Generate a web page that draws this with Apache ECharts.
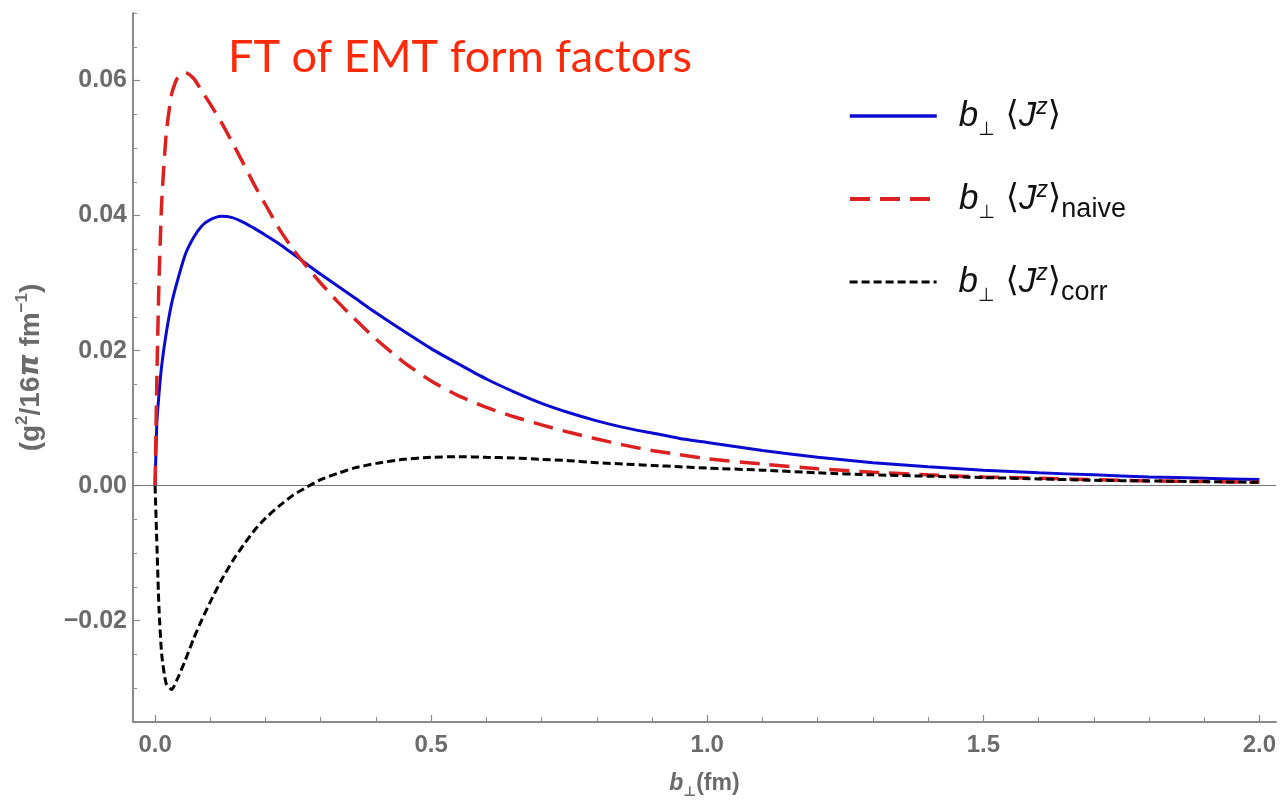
<!DOCTYPE html>
<html>
<head>
<meta charset="utf-8">
<script src="https://cdn.jsdelivr.net/npm/echarts@6/dist/echarts.min.js"></script>
<style>
html,body{margin:0;padding:0;background:#fff;}
#chart{width:1284px;height:803px;}
</style>
</head>
<body>
<div id="chart"></div>
<script>
// ---- data ----
const bValues = [0, 0.003, 0.007, 0.012, 0.02, 0.03, 0.04, 0.055, 0.07, 0.085, 0.1, 0.12, 0.14, 0.16, 0.18, 0.2, 0.225, 0.25, 0.275, 0.3, 0.33, 0.36, 0.4, 0.45, 0.5, 0.55, 0.6, 0.65, 0.7, 0.75, 0.8, 0.85, 0.9, 0.95, 1.0, 1.1, 1.2, 1.3, 1.4, 1.5, 1.6, 1.7, 1.8, 1.9, 2.0];
const jzTotal = [0, 0.009, 0.0135, 0.0178, 0.0225, 0.027, 0.0302, 0.0343, 0.0368, 0.0385, 0.0394, 0.0399, 0.0397, 0.0390, 0.0381, 0.0371, 0.0358, 0.0343, 0.0328, 0.0313, 0.0296, 0.0279, 0.0256, 0.0229, 0.0203, 0.0180, 0.0158, 0.0139, 0.0122, 0.0108, 0.0096, 0.0086, 0.0078, 0.0070, 0.0064, 0.0052, 0.0042, 0.0034, 0.0028, 0.0023, 0.0019, 0.0016, 0.0013, 0.0011, 0.0009];
const jzNaive = [0, 0.015, 0.030, 0.042, 0.052, 0.058, 0.0603, 0.0612, 0.0603, 0.0584, 0.0565, 0.0538, 0.0508, 0.0477, 0.0445, 0.0416, 0.0380, 0.0350, 0.0324, 0.0300, 0.0273, 0.0248, 0.0217, 0.0183, 0.0155, 0.0133, 0.0116, 0.0102, 0.0090, 0.0079, 0.0069, 0.0060, 0.0052, 0.0046, 0.0040, 0.0032, 0.0025, 0.0020, 0.0016, 0.0013, 0.0011, 0.0009, 0.0007, 0.0006, 0.0005];
const jzCorr = [0, -0.008, -0.018, -0.025, -0.0293, -0.0302, -0.0287, -0.0258, -0.0226, -0.0198, -0.0172, -0.0140, -0.0112, -0.0088, -0.0066, -0.0048, -0.0030, -0.0014, -0.0002, 0.0009, 0.0018, 0.0026, 0.0033, 0.0039, 0.0042, 0.0043, 0.0042, 0.0041, 0.0039, 0.0037, 0.0034, 0.0032, 0.0030, 0.0028, 0.0026, 0.0023, 0.0019, 0.0016, 0.0014, 0.0012, 0.0010, 0.0008, 0.0007, 0.0006, 0.0005];

const yMajorTicks = [-0.02, 0, 0.02, 0.04, 0.06];
const yMinorTicks = [-0.035, -0.03, -0.025, -0.02, -0.015, -0.01, -0.005, 0, 0.005, 0.01, 0.015, 0.02, 0.025, 0.03, 0.035, 0.04, 0.045, 0.05, 0.055, 0.06, 0.065, 0.07];
const xMajorTicks = [0, 0.5, 1, 1.5, 2];
const xMinorTicks = [0, 0.1, 0.2, 0.3, 0.4, 0.5, 0.6, 0.7, 0.8, 0.9, 1.0, 1.1, 1.2, 1.3, 1.4, 1.5, 1.6, 1.7, 1.8, 1.9, 2.0];

const titleText = 'FT of EMT form factors';
const seriesNames = ['J', 'naive', 'corr'];

// ---- chart ----
const pairs = arr => bValues.map((b, i) => [b, arr[i]]);
const gray = '#6b6b6b';
const axisGray = '#8a8a8a';
const labelFont = "'Liberation Sans', Arial, sans-serif";

const LH = 44;
const legendRich = {
  sp: {width: 17, fontSize: 28, lineHeight: LH},
  b: {fontSize: 35, fontStyle: 'italic', fontFamily: labelFont, color: '#111', lineHeight: LH},
  perp: {fontSize: 19, fontFamily: "'DejaVu Sans', sans-serif", color: '#111', verticalAlign: 'bottom', lineHeight: LH, padding: [0, 0, -2, 0]},
  n: {fontSize: 34, fontFamily: "'DejaVu Sans', 'Liberation Sans', sans-serif", color: '#111', lineHeight: LH},
  J: {fontSize: 35, fontStyle: 'italic', fontFamily: labelFont, color: '#111', lineHeight: LH},
  sup: {fontSize: 23, fontStyle: 'italic', fontFamily: labelFont, color: '#111', verticalAlign: 'top', lineHeight: LH, padding: [2, 0, 0, 0]},
  sub: {fontSize: 27, fontFamily: labelFont, color: '#111', verticalAlign: 'bottom', lineHeight: LH, padding: [0, 0, -2, 0]}
};
const legendLabel = {
  J: '{sp| }{b|b}{perp|⊥}{n| ⟨}{J|J}{sup|z}{n|⟩}',
  naive: '{sp| }{b|b}{perp|⊥}{n| ⟨}{J|J}{sup|z}{n|⟩}{sub|naive}',
  corr: '{sp| }{b|b}{perp|⊥}{n| ⟨}{J|J}{sup|z}{n|⟩}{sub|corr}'
};
const legendLineWidths = [3.5, 4, 3.2];
const legendCenters = [112, 195, 278];
const legends = seriesNames.map((nm, i) => ({
  data: [nm],
  left: 843,
  top: legendCenters[i] - LH / 2 - 1,
  itemWidth: 87,
  itemHeight: 14,
  selectedMode: false,
  formatter: name => legendLabel[name],
  itemStyle: {opacity: 0},
  lineStyle: {width: legendLineWidths[i]},
  textStyle: {rich: legendRich}
}));

const fmtY = v => {
  if (Math.abs(v) < 1e-9) return '0.00';
  return (v < 0 ? '−' : '') + Math.abs(v).toFixed(2);
};

const option = {
  animation: false,
  backgroundColor: '#fff',
  title: {
    text: titleText,
    left: 223,
    top: 30,
    textStyle: {fontSize: 45, fontWeight: 'normal', color: '#ff2a0a', fontFamily: "Lato, 'Noto Sans', sans-serif"}
  },
  legend: legends,
  grid: {left: 133, right: 8, top: 13, bottom: 81, containLabel: false, outerBoundsMode: 'none'},
  xAxis: [
    {
      type: 'value', min: -0.04, max: 2.03, position: 'bottom',
      name: '{bi|b}{perp|⊥}{n|(fm)}',
      nameLocation: 'middle', nameGap: 50,
      nameTextStyle: {
        rich: {
          bi: {fontSize: 23, fontWeight: 'bold', fontStyle: 'italic', color: gray, fontFamily: labelFont},
          perp: {fontSize: 14, fontWeight: 'bold', color: gray, fontFamily: "'DejaVu Sans', sans-serif", verticalAlign: 'bottom', padding: [0, 0, -4, 0]},
          n: {fontSize: 23, fontWeight: 'bold', color: gray, fontFamily: labelFont}
        }
      },
      splitLine: {show: false},
      axisLine: {onZero: false, lineStyle: {color: axisGray, width: 2}},
      axisTick: {inside: true, length: 7, customValues: xMajorTicks, lineStyle: {color: axisGray, width: 1.2}},
      axisLabel: {customValues: xMajorTicks, formatter: v => v.toFixed(1), fontSize: 24, fontWeight: 'bold', color: gray, fontFamily: labelFont, margin: 11}
    },
    {
      type: 'value', min: -0.04, max: 2.03, position: 'bottom', offset: 0,
      splitLine: {show: false},
      axisLine: {show: false, onZero: false},
      axisTick: {inside: true, length: 5, customValues: xMinorTicks, lineStyle: {color: axisGray, width: 1}},
      axisLabel: {show: false}
    }
  ],
  yAxis: [
    {
      type: 'value', min: -0.035, max: 0.07, position: 'left',
      name: '{n|(g}{sup|2}{n|/16}{pi|π}{n| fm}{sup|−1}{n|)}',
      nameLocation: 'middle', nameGap: 85,
      nameTextStyle: {
        rich: {
          n: {fontSize: 28, fontWeight: 'bold', color: gray, fontFamily: labelFont, lineHeight: 34},
          pi: {fontSize: 28, fontWeight: 'bold', fontStyle: 'italic', color: gray, fontFamily: "'DejaVu Sans', sans-serif", lineHeight: 34},
          sup: {fontSize: 17, fontWeight: 'bold', color: gray, fontFamily: labelFont, verticalAlign: 'top', lineHeight: 34}
        }
      },
      splitLine: {show: false},
      axisLine: {onZero: false, lineStyle: {color: axisGray, width: 2}},
      axisTick: {inside: true, length: 7, customValues: yMajorTicks, lineStyle: {color: axisGray, width: 1.2}},
      axisLabel: {customValues: yMajorTicks, formatter: fmtY, fontSize: 25, fontWeight: 'bold', color: gray, fontFamily: labelFont, margin: 6}
    },
    {
      type: 'value', min: -0.035, max: 0.07, position: 'left', offset: 0,
      splitLine: {show: false},
      axisLine: {show: false, onZero: false},
      axisTick: {inside: true, length: 4, customValues: yMinorTicks, lineStyle: {color: axisGray, width: 1}},
      axisLabel: {show: false}
    }
  ],
  series: [
    {
      name: 'J', type: 'line', data: pairs(jzTotal), symbol: 'none', showSymbol: false,
      smooth: 0.2,
      lineStyle: {color: '#0a0ad0', width: 3}, itemStyle: {color: '#0a0ad0'},
      markLine: {
        silent: true, symbol: ['none', 'none'], label: {show: false},
        lineStyle: {color: '#777', width: 1.2, type: 'solid'},
        data: [{yAxis: 0}]
      },
      z: 3
    },
    {
      name: 'naive', type: 'line', data: pairs(jzNaive), symbol: 'none', showSymbol: false,
      smooth: 0.2,
      lineStyle: {color: '#dd2020', width: 3.5, type: [20, 10]}, itemStyle: {color: '#dd2020'},
      z: 4
    },
    {
      name: 'corr', type: 'line', data: pairs(jzCorr), symbol: 'none', showSymbol: false,
      smooth: 0.2,
      lineStyle: {color: '#000', width: 3, type: [8, 4]}, itemStyle: {color: '#000'},
      z: 5
    }
  ]
};

const chart = echarts.init(document.getElementById('chart'), null, {renderer: 'canvas'});
chart.setOption(option);
</script>
</body>
</html>
